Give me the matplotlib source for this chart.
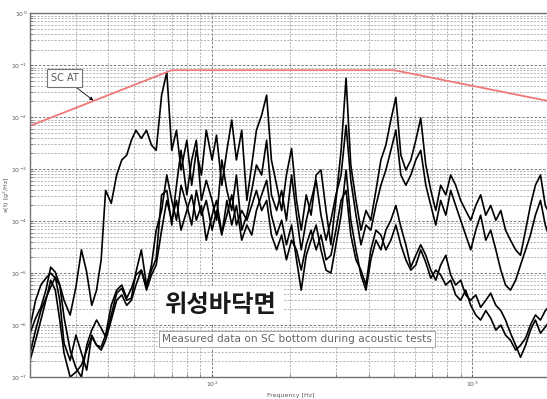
import matplotlib.pyplot as plt
from matplotlib.ticker import FixedLocator, NullFormatter
import numpy as np

# frequency grid [Hz]
freq = [20, 21, 22, 23, 24, 25, 26, 27, 28.5, 30, 31.5, 33, 34.5, 36, 37.5, 39,
        41, 43, 45, 47, 49, 51, 53.5, 56, 58.5, 61, 64, 67, 70, 73, 76, 80,
        83.5, 87, 91, 95, 100, 104, 109, 114, 119, 124, 130, 136, 142, 148,
        155, 162, 169, 177, 185, 193, 202, 211, 220, 230, 240, 251, 262, 274,
        286, 299, 313, 327, 341, 357, 373, 390, 407, 426, 445, 465, 486, 508,
        531, 555, 580, 606, 633, 662, 692, 723, 755, 790, 825, 862, 901, 942,
        985, 1030, 1075, 1125, 1175, 1230, 1285, 1340, 1400, 1465, 1530, 1600,
        1670, 1745, 1825, 1905, 1990]

# measured PSD [g^2/Hz], four accelerometers
psd_a = [7.0e-7, 1.36e-6, 2.2e-6, 4.7e-6, 1.3e-5, 1.04e-5, 5.9e-6, 3.0e-6, 1.56e-6, 5.4e-6,
         2.8e-5, 1.04e-5, 2.4e-6, 4.7e-6, 1.8e-5, 3.9e-4, 2.2e-4, 7.7e-4, 1.5e-3, 1.86e-3,
         3.6e-3, 5.6e-3, 3.9e-3, 5.6e-3, 2.9e-3, 2.3e-3, 2.65e-2, 7.3e-2, 2.3e-3, 5.6e-3,
         9.6e-4, 3.6e-3, 4.9e-4, 2.3e-3, 7.7e-4, 5.6e-3, 1.5e-3, 4.5e-3, 4.9e-4, 2.3e-3,
         8.8e-3, 1.5e-3, 5.6e-3, 2.5e-4, 1.2e-3, 5.6e-3, 1.09e-2, 2.65e-2, 1.5e-3, 4.9e-4,
         1.6e-4, 7.7e-4, 2.5e-3, 2.5e-4, 6.7e-5, 3.2e-4, 1.3e-4, 7.7e-4, 9.6e-4, 1.6e-4,
         3.5e-5, 2.5e-4, 2.3e-3, 5.6e-2, 1.2e-3, 2.5e-4, 6.7e-5, 1.6e-4, 1.04e-4, 3.9e-4,
         1.5e-3, 2.9e-3, 8.8e-3, 2.4e-2, 1.86e-3, 9.6e-4, 1.5e-3, 3.6e-3, 9.6e-3, 1.2e-3,
         3.9e-4, 1.6e-4, 4.9e-4, 3.2e-4, 7.7e-4, 4.9e-4, 2.5e-4, 1.6e-4, 1.04e-4, 2.0e-4,
         3.2e-4, 1.3e-4, 2.0e-4, 1.04e-4, 1.6e-4, 6.7e-5, 4.3e-5, 2.8e-5, 2.2e-5, 6.7e-5,
         2.0e-4, 4.9e-4, 7.7e-4, 2.0e-4, 1.3e-4]
psd_b = [9.2e-7, 3.0e-6, 5.9e-6, 8.0e-6, 1.0e-5, 8.0e-6, 5.9e-6, 1.43e-6, 3.3e-7, 1.5e-7,
         1.0e-7, 4.1e-7, 8.0e-7, 1.25e-6, 8.8e-7, 5.9e-7, 1.56e-6, 4.1e-6, 5.1e-6, 3.0e-6,
         3.3e-6, 1.04e-5, 2.8e-5, 5.9e-6, 1.14e-5, 1.9e-5, 3.2e-4, 3.9e-4, 8.4e-5, 4.9e-4,
         2.3e-3, 3.2e-4, 1.5e-3, 3.6e-3, 2.5e-4, 6.1e-4, 2.5e-4, 1.04e-4, 1.5e-3, 3.9e-4,
         1.6e-4, 7.7e-4, 6.7e-5, 1.3e-4, 3.9e-4, 1.2e-3, 7.7e-4, 3.6e-3, 3.2e-4, 1.6e-4,
         3.9e-4, 1.04e-4, 7.7e-4, 1.3e-4, 2.8e-5, 1.04e-4, 2.5e-4, 6.1e-4, 1.3e-4, 4.3e-5,
         1.04e-4, 3.2e-4, 7.7e-4, 7.0e-3, 6.1e-4, 1.3e-4, 3.5e-5, 8.4e-5, 6.7e-5, 2.0e-4,
         4.9e-4, 9.6e-4, 2.3e-3, 5.6e-3, 7.7e-4, 4.9e-4, 7.7e-4, 1.5e-3, 2.3e-3, 4.9e-4,
         2.0e-4, 8.4e-5, 2.5e-4, 1.3e-4, 3.9e-4, 2.0e-4, 1.04e-4, 5.4e-5, 2.8e-5, 6.7e-5,
         1.3e-4, 4.3e-5, 6.7e-5, 2.8e-5, 1.14e-5, 5.9e-6, 4.7e-6, 7.3e-6, 1.43e-5, 2.8e-5,
         5.4e-5, 1.3e-4, 2.5e-4, 8.4e-5, 4.3e-5]
psd_c = [2.9e-7, 8.0e-7, 1.9e-6, 3.3e-6, 5.4e-6, 8.4e-6, 3.0e-6, 4.5e-7, 2.1e-7, 6.4e-7,
         2.9e-7, 1.36e-7, 6.4e-7, 4.1e-7, 3.8e-7, 6.4e-7, 2.4e-6, 4.7e-6, 5.9e-6, 3.3e-6,
         5.1e-6, 9.2e-6, 1.14e-5, 5.4e-6, 1.43e-5, 6.7e-5, 1.6e-4, 7.7e-4, 2.5e-4, 1.04e-4,
         4.9e-4, 2.0e-4, 8.4e-5, 3.9e-4, 1.3e-4, 2.5e-4, 6.7e-5, 1.6e-4, 5.4e-5, 2.5e-4,
         8.4e-5, 2.0e-4, 4.3e-5, 8.4e-5, 5.4e-5, 1.6e-4, 3.2e-4, 6.1e-4, 1.3e-4, 5.4e-5,
         1.04e-4, 3.5e-5, 8.4e-5, 1.8e-5, 4.7e-6, 2.2e-5, 4.3e-5, 8.4e-5, 2.8e-5, 1.14e-5,
         1.0e-5, 3.5e-5, 1.3e-4, 9.6e-4, 1.04e-4, 2.8e-5, 9.2e-6, 4.7e-6, 1.8e-5, 4.3e-5,
         2.8e-5, 6.7e-5, 1.04e-4, 2.0e-4, 7.7e-5, 3.5e-5, 1.3e-5, 2.2e-5, 3.5e-5, 2.2e-5,
         1.14e-5, 7.3e-6, 1.43e-5, 2.2e-5, 9.2e-6, 5.9e-6, 7.3e-6, 3.8e-6, 3.0e-6, 3.8e-6,
         2.2e-6, 3.0e-6, 4.1e-6, 2.4e-6, 1.9e-6, 1.25e-6, 7.0e-7, 4.1e-7, 2.4e-7, 4.1e-7,
         8.0e-7, 1.25e-6, 7.0e-7, 9.2e-7, 1.25e-6]
psd_d = [2.1e-7, 5.1e-7, 1.25e-6, 3.0e-6, 7.3e-6, 4.7e-6, 1.25e-6, 2.9e-7, 1.0e-7, 1.25e-7,
         1.7e-7, 3.3e-7, 5.9e-7, 4.1e-7, 3.3e-7, 5.1e-7, 1.25e-6, 3.0e-6, 3.8e-6, 2.4e-6,
         3.0e-6, 5.9e-6, 1.14e-5, 4.7e-6, 9.2e-6, 1.43e-5, 6.7e-5, 2.5e-4, 1.04e-4, 2.5e-4,
         6.7e-5, 1.6e-4, 3.2e-4, 1.04e-4, 2.0e-4, 4.3e-5, 1.3e-4, 2.5e-4, 5.9e-5, 1.3e-4,
         3.2e-4, 8.4e-5, 1.6e-4, 1.04e-4, 2.0e-4, 3.9e-4, 1.6e-4, 2.5e-4, 5.4e-5, 2.8e-5,
         5.4e-5, 1.8e-5, 4.3e-5, 2.8e-5, 1.14e-5, 3.5e-5, 6.7e-5, 2.8e-5, 5.4e-5, 1.8e-5,
         2.2e-5, 6.7e-5, 2.5e-4, 3.9e-4, 5.4e-5, 1.8e-5, 1.14e-5, 5.9e-6, 2.8e-5, 6.7e-5,
         5.4e-5, 2.8e-5, 4.3e-5, 8.4e-5, 3.5e-5, 1.8e-5, 1.14e-5, 1.43e-5, 2.8e-5, 1.6e-5,
         8.0e-6, 1.14e-5, 9.2e-6, 5.9e-6, 7.3e-6, 3.8e-6, 3.0e-6, 4.7e-6, 2.4e-6, 1.56e-6,
         1.25e-6, 1.9e-6, 1.36e-6, 8.0e-7, 1.0e-6, 6.4e-7, 5.1e-7, 3.3e-7, 4.1e-7, 5.6e-7,
         1.0e-6, 1.56e-6, 1.25e-6, 1.9e-6, 2.4e-6]

# SC acoustic test spec
spec_freq = [20, 70, 500, 2000]
spec_psd = [0.0068, 0.08, 0.08, 0.02]

# axis ticks
x_major = [100, 1000]
x_minor = [30, 40, 50, 60, 70, 80, 90, 200, 300, 400, 500, 600, 700, 800, 900]
y_major = [1e-7, 1e-6, 1e-5, 1e-4, 1e-3, 1e-2, 1e-1, 1]
y_labels = ['$10^{-7}$', '$10^{-6}$', '$10^{-5}$', '$10^{-4}$',
            '$10^{-3}$', '$10^{-2}$', '$10^{-1}$', '$10^{0}$']

fig = plt.figure(figsize=(5.47, 3.99), dpi=100)
ax = fig.add_axes([0.055, 0.055, 0.952, 0.912])

for p in [psd_a, psd_b, psd_c, psd_d]:
    ax.plot(freq, p, color='k', lw=1.2)
ax.plot(spec_freq, spec_psd, color='#f07878', lw=1.3)

ax.set_xscale('log')
ax.set_yscale('log')
ax.set_xlim(20, 2000)
ax.set_ylim(1e-7, 1)

ax.set_xticks(x_major, ['$10^{2}$', '$10^{3}$'])
ax.set_yticks(y_major, y_labels)
ax.xaxis.set_minor_locator(FixedLocator(x_minor))
y_minor = [k * d for d in y_major[:-1] for k in range(2, 10)]
ax.yaxis.set_minor_locator(FixedLocator(y_minor))
ax.xaxis.set_minor_formatter(NullFormatter())
ax.yaxis.set_minor_formatter(NullFormatter())

ax.grid(True, which='major', ls=(0, (3, 2)), color='0.4', lw=0.6)
ax.grid(True, which='minor', ls=(0, (3, 2)), color='0.6', lw=0.5)
ax.tick_params(which='both', direction='in', labelsize=4.5, labelcolor='0.35',
               color='0.4', length=2, pad=2)
for s in ax.spines.values():
    s.set_color('0.45')
    s.set_linewidth(1.0)

ax.set_xlabel('Frequency [Hz]', fontsize=4.5, color='0.35')
ax.xaxis.set_label_coords(0.5, -0.045)
ax.set_ylabel('a(t) [g$^2$/Hz]', fontsize=4.5, color='0.35')
ax.yaxis.set_label_coords(-0.035, 0.5)

ax.annotate('SC AT', xy=(35, 0.0209), xytext=(0.066, 0.821), textcoords='axes fraction',
            ha='center', va='center', fontsize=7, color='0.35',
            bbox=dict(boxstyle='square,pad=0.4', fc='white', ec='0.45', lw=0.8),
            arrowprops=dict(arrowstyle='-|>', color='k', lw=0.6, mutation_scale=5,
                            shrinkA=0, shrinkB=0))

ax.text(0.367, 0.198, '위성바닥면', transform=ax.transAxes, ha='center', va='center',
        fontsize=17.5, fontweight='bold', color='#1a1a1a',
        family=['Noto Sans CJK KR', 'DejaVu Sans'],
        bbox=dict(boxstyle='square,pad=0.3', fc='white', ec='none'))
ax.text(0.513, 0.104, 'Measured data on SC bottom during acoustic tests',
        transform=ax.transAxes, ha='center', va='center', fontsize=7.6, color='0.4',
        bbox=dict(boxstyle='square,pad=0.3', fc='white', ec='0.6', lw=0.6))

fig.savefig('out.png', dpi=100)
